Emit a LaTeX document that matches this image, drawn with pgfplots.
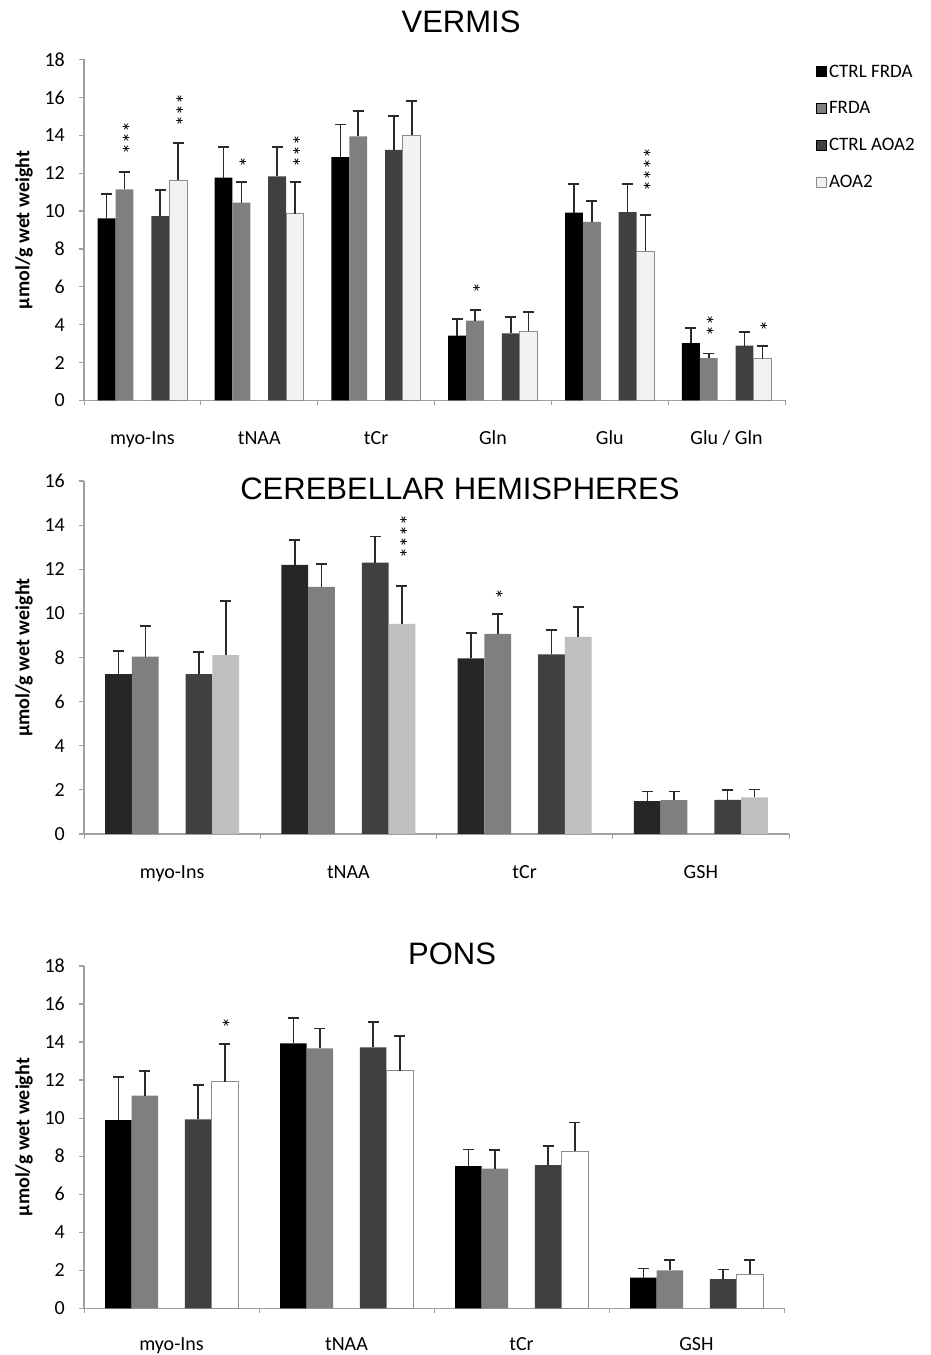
\documentclass[border=0pt]{standalone}
\usepackage{pgfplots}
\usepackage{pgfplotstable}
\pgfplotsset{compat=1.18}
\usepackage{fontspec}
\setmainfont{Carlito}
\newfontfamily\titlefont{Liberation Sans}

\definecolor{cA}{HTML}{000000}
\definecolor{cB}{HTML}{7F7F7F}
\definecolor{cC}{HTML}{404040}
\definecolor{cD}{HTML}{F2F2F2}
\definecolor{cAb}{HTML}{262626}
\definecolor{cDb}{HTML}{BFBFBF}
\definecolor{axgray}{HTML}{A0A0A0}
\definecolor{edge}{HTML}{8C8C8C}
\definecolor{errc}{HTML}{2A2A2A}

\pgfplotstableread{
x y e
0 9.61 1.30
1 11.77 1.62
2 12.85 1.72
3 3.43 0.88
4 9.91 1.53
5 3.03 0.81
}\vA
\pgfplotstableread{
x y e
0 11.14 0.93
1 10.45 1.08
2 13.94 1.35
3 4.22 0.55
4 9.43 1.11
5 2.23 0.25
}\vB
\pgfplotstableread{
x y e
0 9.73 1.37
1 11.83 1.56
2 13.23 1.80
3 3.54 0.88
4 9.94 1.50
5 2.90 0.73
}\vC
\pgfplotstableread{
x y e
0 11.63 1.96
1 9.87 1.66
2 13.99 1.81
3 3.66 1.02
4 7.87 1.91
5 2.20 0.69
}\vD

\pgfplotstableread{
x y e
0 7.25 1.05
1 12.20 1.13
2 7.96 1.16
3 1.49 0.44
}\hA
\pgfplotstableread{
x y e
0 8.04 1.39
1 11.20 1.04
2 9.07 0.91
3 1.54 0.39
}\hB
\pgfplotstableread{
x y e
0 7.25 1.01
1 12.30 1.18
2 8.14 1.10
3 1.55 0.44
}\hC
\pgfplotstableread{
x y e
0 8.11 2.46
1 9.52 1.72
2 8.94 1.34
3 1.66 0.35
}\hD

\pgfplotstableread{
x y e
0 9.90 2.25
1 13.93 1.33
2 7.48 0.88
3 1.61 0.49
}\pA
\pgfplotstableread{
x y e
0 11.18 1.30
1 13.67 1.05
2 7.34 0.98
3 2.00 0.54
}\pB
\pgfplotstableread{
x y e
0 9.94 1.80
1 13.72 1.35
2 7.53 1.00
3 1.54 0.51
}\pC
\pgfplotstableread{
x y e
0 11.91 1.99
1 12.49 1.83
2 8.27 1.51
3 1.79 0.75
}\pD

\tikzset{sigstar/.style={rotate=90, font=\fontsize{22}{22}\selectfont, inner sep=0pt}}
\newcommand{\tfont}{\fontsize{20}{24}\selectfont}

\pgfplotsset{
  panel/.style={
    scale only axis,
    axis x line*=bottom, axis y line*=left,
    axis line style={axgray, line width=1.4pt},
    tick align=outside,
    major tick length=5pt,
    minor tick length=5pt,
    major x tick style={draw=none},
    minor x tick style={axgray, line width=1pt},
    ytick style={axgray, line width=1.2pt},
    ymin=0,
    clip=false,
    /pgf/number format/assume math mode=true,
    tick label style={font=\tfont, text=black},
    yticklabel style={anchor=east, inner sep=0pt, xshift=-14pt, font=\tfont},
    yticklabel={\tfont\pgfmathprintnumber{\tick}},
    ylabel={\tfont\bfseries µmol/g wet weight},
    every axis y label/.style={at={([xshift=-60pt]axis description cs:0,0.5)}, rotate=90, anchor=center},
    legend image code/.code={\draw[##1,/tikz/.cd,line width=0.8pt] (0pt,-5pt) rectangle (10pt,5pt);},
  },
  bars/.style={ybar, bar width=0.153, bar shift=0pt,
    error bars/y dir=plus, error bars/y explicit, error bars/error mark=|,
    error bars/error mark options={draw=errc, line width=1.6pt, mark size=5.5pt},
    error bars/error bar style={draw=errc, line width=1.6pt}},
}

\begin{document}
\begin{tikzpicture}
\path[use as bounding box] (0,0) rectangle (930pt,1355pt);

% ---------------- VERMIS ----------------
\node[font=\titlefont\fontsize{31}{36}\selectfont] at (461pt,1333pt) {VERMIS};
\begin{axis}[panel, at={(84pt,954.5pt)}, anchor=south west,
  width=701pt, height=341pt,
  xmin=-0.5, xmax=5.5, ymax=18, ytick={0,2,...,18},
  xtick={0,1,2,3,4,5},
  xticklabels={myo-Ins,tNAA,tCr,Gln,Glu,Glu / Gln},
  minor xtick={-0.5,0.5,1.5,2.5,3.5,4.5,5.5},
  xticklabel style={anchor=base, yshift=-39pt},
  legend style={at={(1,1)}, anchor=north west, xshift=28pt, yshift=-1pt,
    draw=none, fill=none, row sep=19pt, cells={anchor=west},
    font=\fontsize{19}{22}\selectfont},
]
\addplot[bars, fill=cA, draw=none] table[x expr=\thisrow{x}-0.306,y=y,y error=e]{\vA};
\addplot[bars, fill=cB, draw=none] table[x expr=\thisrow{x}-0.153,y=y,y error=e]{\vB};
\addplot[bars, fill=cC, draw=none] table[x expr=\thisrow{x}+0.153,y=y,y error=e]{\vC};
\addplot[bars, fill=cD, draw=edge, line width=1pt] table[x expr=\thisrow{x}+0.306,y=y,y error=e]{\vD};
\legend{CTRL FRDA,FRDA,CTRL AOA2,AOA2}
\node[sigstar] at (axis cs:-0.102,13.87) {***};
\node[sigstar] at (axis cs:0.357,15.35) {***};
\node[sigstar] at (axis cs:0.898,12.6) {*};
\node[sigstar] at (axis cs:1.357,13.19) {***};
\node[sigstar] at (axis cs:2.898,5.93) {*};
\node[sigstar] at (axis cs:4.357,12.21) {****};
\node[sigstar] at (axis cs:4.898,3.98) {**};
\node[sigstar] at (axis cs:5.357,3.95) {*};
\end{axis}

% ---------------- CEREBELLAR HEMISPHERES ----------------
\node[font=\titlefont\fontsize{31}{36}\selectfont] at (460pt,866pt) {CEREBELLAR HEMISPHERES};
\begin{axis}[panel, at={(84pt,521pt)}, anchor=south west,
  width=705pt, height=353pt,
  xmin=-0.5, xmax=3.5, ymax=16, ytick={0,2,...,16},
  xtick={0,1,2,3},
  xticklabels={myo-Ins,tNAA,tCr,GSH},
  minor xtick={-0.5,0.5,1.5,2.5,3.5},
  xticklabel style={anchor=base, yshift=-40pt},
]
\addplot[bars, bar width=0.152, fill=cAb, draw=none] table[x expr=\thisrow{x}-0.304,y=y,y error=e]{\hA};
\addplot[bars, bar width=0.152, fill=cB, draw=none] table[x expr=\thisrow{x}-0.152,y=y,y error=e]{\hB};
\addplot[bars, bar width=0.152, fill=cC, draw=none] table[x expr=\thisrow{x}+0.152,y=y,y error=e]{\hC};
\addplot[bars, bar width=0.152, fill=cDb, draw=none] table[x expr=\thisrow{x}+0.304,y=y,y error=e]{\hD};
\node[sigstar] at (axis cs:1.338,13.49) {****};
\node[sigstar] at (axis cs:1.882,10.88) {*};
\end{axis}

% ---------------- PONS ----------------
\node[font=\titlefont\fontsize{31}{36}\selectfont] at (452pt,401pt) {PONS};
\begin{axis}[panel, at={(84pt,46.7pt)}, anchor=south west,
  width=700pt, height=342.3pt,
  xmin=-0.5, xmax=3.5, ymax=18, ytick={0,2,...,18},
  xtick={0,1,2,3},
  xticklabels={myo-Ins,tNAA,tCr,GSH},
  minor xtick={-0.5,0.5,1.5,2.5,3.5},
  xticklabel style={anchor=base, yshift=-37.5pt},
]
\addplot[bars, bar width=0.152, fill=cA, draw=none] table[x expr=\thisrow{x}-0.304,y=y,y error=e]{\pA};
\addplot[bars, bar width=0.152, fill=cB, draw=none] table[x expr=\thisrow{x}-0.152,y=y,y error=e]{\pB};
\addplot[bars, bar width=0.152, fill=cC, draw=none] table[x expr=\thisrow{x}+0.152,y=y,y error=e]{\pC};
\addplot[bars, bar width=0.152, fill=white, draw=edge, line width=1pt] table[x expr=\thisrow{x}+0.304,y=y,y error=e]{\pD};
\node[sigstar] at (axis cs:0.338,14.98) {*};
\end{axis}
\end{tikzpicture}
\end{document}
